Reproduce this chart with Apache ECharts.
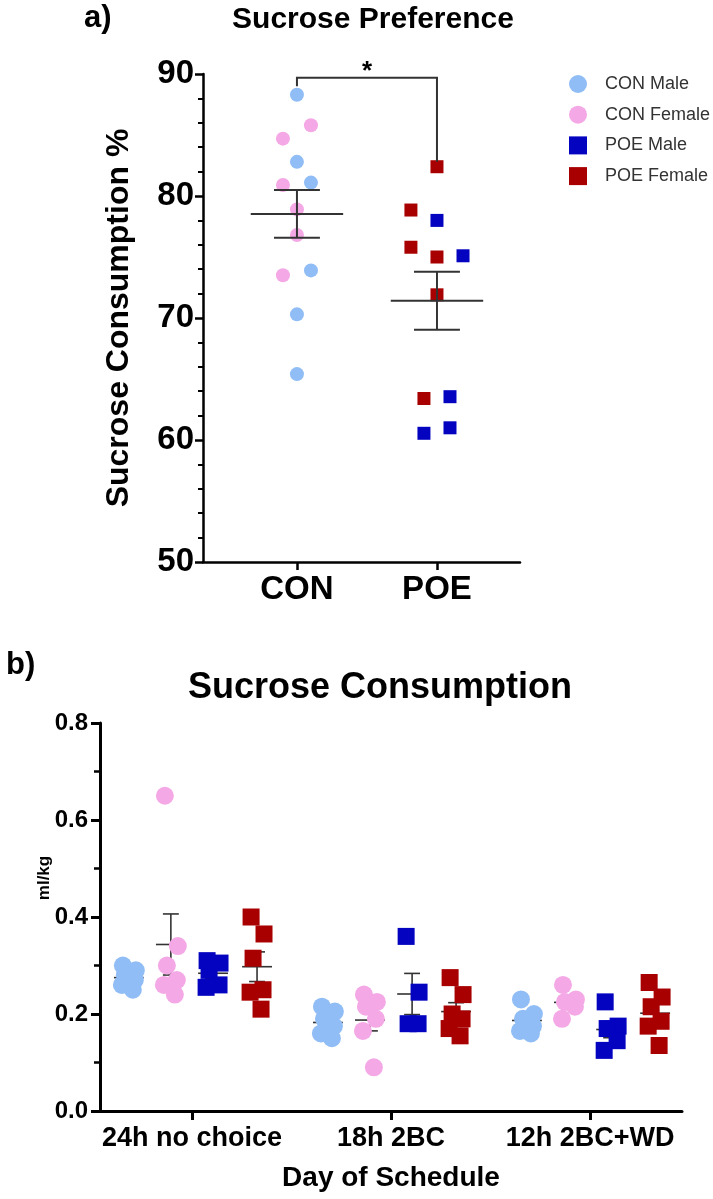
<!DOCTYPE html>
<html><head><meta charset="utf-8">
<script src="https://cdn.jsdelivr.net/npm/echarts@6/dist/echarts.min.js"></script>
<style>html,body{margin:0;padding:0;background:#fff}#c{width:713px;height:1199px}</style>
</head><body><div id="c"></div>
<script>
// ---------- DATA ----------
const groupsA = ['CON', 'POE'];
const conMaleA   = [88.3, 82.8, 81.1, 73.9, 70.3, 65.4];
const conFemaleA = [85.8, 84.7, 80.9, 78.9, 76.8, 73.5];
const poeMaleA   = [78.0, 75.1, 63.55, 60.55, 61.0];
const poeFemaleA = [82.4, 78.85, 75.8, 75.0, 71.9, 63.4];
const yTicksA = [50, 60, 70, 80, 90];

const days = ['24h no choice', '18h 2BC', '12h 2BC+WD'];
const conMaleB   = [[0.30, 0.29, 0.28, 0.27, 0.26, 0.25], [0.215, 0.205, 0.19, 0.175, 0.16, 0.15], [0.23, 0.20, 0.19, 0.175, 0.165, 0.16]];
const conFemaleB = [[0.65, 0.34, 0.30, 0.27, 0.26, 0.24], [0.24, 0.225, 0.215, 0.19, 0.165, 0.09], [0.26, 0.23, 0.225, 0.215, 0.19]];
const poeMaleB   = [[0.31, 0.305, 0.29, 0.26, 0.255], [0.36, 0.245, 0.18, 0.18], [0.225, 0.175, 0.17, 0.145, 0.125]];
const poeFemaleB = [[0.40, 0.365, 0.315, 0.25, 0.245, 0.21], [0.275, 0.24, 0.20, 0.19, 0.17, 0.155], [0.265, 0.235, 0.215, 0.185, 0.175, 0.135]];
const yTicksB = [0, 0.2, 0.4, 0.6, 0.8];

// ---------- LAYOUT (jitter / offsets, not data) ----------
const jitConMaleA   = [0, 0, 0.1, 0.1, 0, 0];
const jitConFemaleA = [0.1, -0.1, -0.1, 0, 0, -0.1];
const jitPoeMaleA   = [0, 0.186, 0.093, -0.093, 0.093];
const jitPoeFemaleA = [0, -0.186, -0.186, 0, 0, -0.093];
const offB = [-0.317, -0.106, 0.106, 0.327];
const jitB = [-0.03, 0.035, -0.02, 0.03, -0.035, 0.02];

const C = {cm: '#90bdf5', cf: '#f4a8e6', pm: '#0303c0', pf: '#a80000'};
const FONT = 'Liberation Sans, Arial, sans-serif';
const SQUARE = 'path://M0 0H10V10H0Z';

function mean(a){ return a.reduce((s,v)=>s+v,0)/a.length; }
function sem(a){ const m = mean(a); const v = a.reduce((s,x)=>s+(x-m)*(x-m),0)/(a.length-1); return Math.sqrt(v/a.length); }

function errRender(hm, hc, lw){
  return function(params, api){
    const x = api.value(0), m = api.value(1), lo = api.value(2), hi = api.value(3);
    const a1 = api.coord([x-hm, m]), a2 = api.coord([x+hm, m]);
    const v1 = api.coord([x, lo]), v2 = api.coord([x, hi]);
    const h1 = api.coord([x-hc, hi]), h2 = api.coord([x+hc, hi]);
    const l1 = api.coord([x-hc, lo]), l2 = api.coord([x+hc, lo]);
    const st = {stroke: '#333', lineWidth: lw};
    return {type: 'group', children: [
      {type:'line', shape:{x1:a1[0],y1:a1[1],x2:a2[0],y2:a2[1]}, style: st},
      {type:'line', shape:{x1:v1[0],y1:v1[1],x2:v2[0],y2:v2[1]}, style: st},
      {type:'line', shape:{x1:h1[0],y1:h1[1],x2:h2[0],y2:h2[1]}, style: st},
      {type:'line', shape:{x1:l1[0],y1:l1[1],x2:l2[0],y2:l2[1]}, style: st}
    ]};
  };
}

// panel A
const conAll = conMaleA.concat(conFemaleA), poeAll = poeMaleA.concat(poeFemaleA);
const errA = [[0, mean(conAll), mean(conAll)-sem(conAll), mean(conAll)+sem(conAll)],
              [1, mean(poeAll), mean(poeAll)-sem(poeAll), mean(poeAll)+sem(poeAll)]];
const ptsA = (vals, g, jit) => vals.map((v,i)=>[g + jit[i], v]);

// panel B
const sexSets = [conMaleB, conFemaleB, poeMaleB, poeFemaleB];
const ptsB = (set, s) => { const out=[]; set.forEach((vals,d)=>vals.forEach((v,i)=>out.push([d+offB[s]+jitB[i%jitB.length], v]))); return out; };
const errB = [];
sexSets.forEach((set,s)=>set.forEach((vals,d)=>{ const m=mean(vals), e=sem(vals); errB.push([d+offB[s], m, m-e, m+e]); }));

const axisLineA = {show:true, onZero:false, lineStyle:{color:'#000', width:2.5}};
const axisLineB = {show:true, onZero:false, lineStyle:{color:'#000', width:3}};

const option = {
  animation: false,
  backgroundColor: '#fff',
  textStyle: {fontFamily: FONT},
  title: [
    {text:'a)', left: 84, top: 3, padding:0, textStyle:{fontSize:31, fontWeight:'bold', color:'#000', fontFamily:FONT}},
    {text:'Sucrose Preference', left: 373, top: 5, padding:0, textAlign:'center', textStyle:{fontSize:30, fontWeight:'bold', color:'#000', fontFamily:FONT}},
    {text:'b)', left: 6, top: 650, padding:0, textStyle:{fontSize:31, fontWeight:'bold', color:'#000', fontFamily:FONT}},
    {text:'Sucrose Consumption', left: 380, top: 670, padding:0, textAlign:'center', textStyle:{fontSize:36, fontWeight:'bold', color:'#000', fontFamily:FONT}}
  ],
  legend: {
    orient:'vertical', left: 564, top: 70, itemWidth: 18, itemHeight: 18, itemGap: 12.7,
    selectedMode: false,
    textStyle: {fontSize: 18, color: '#333', fontFamily: FONT, padding: [0, 0, 0, 13]},
    data: [{name:'CON Male', icon:'circle'}, {name:'CON Female', icon:'circle'}, {name:'POE Male', icon:SQUARE}, {name:'POE Female', icon:SQUARE}]
  },
  graphic: [
    {type:'text', x: 44, y: 878, rotation: Math.PI/2, style:{text:'ml/kg', fill:'#000', font:'bold 17px ' + FONT, textAlign:'center', textVerticalAlign:'middle'}}
  ],
  grid: [
    {left: 203, top: 74, right: 193, bottom: 637},
    {left: 100, top: 723, right: 31, bottom: 88}
  ],
  xAxis: [
    {gridIndex:0, type:'value', min:-0.671, max:1.593, axisLine: axisLineA, splitLine:{show:false},
     axisTick:{show:true, customValues:[0,1], length:8, lineStyle:{color:'#000', width:2.5}},
     axisLabel:{customValues:[0,1], formatter:v=>groupsA[Math.round(v)], fontSize:33, fontWeight:'bold', color:'#000', margin:11, fontFamily:FONT}},
    {gridIndex:1, type:'value', min:-0.462, max:2.462, axisLine: axisLineB, splitLine:{show:false},
     axisTick:{show:true, customValues:[0,1,2], length:9, lineStyle:{color:'#000', width:3}},
     axisLabel:{customValues:[0,1,2], formatter:v=>days[Math.round(v)], fontSize:27, fontWeight:'bold', color:'#000', margin:14, fontFamily:FONT},
     name:'Day of Schedule', nameLocation:'middle', nameGap:53, nameTextStyle:{fontSize:28, fontWeight:'bold', color:'#000', fontFamily:FONT}}
  ],
  yAxis: [
    {gridIndex:0, type:'value', min:yTicksA[0], max:yTicksA[yTicksA.length-1], interval:10, axisLine: axisLineA, splitLine:{show:false},
     axisTick:{length:8, lineStyle:{color:'#000', width:2.5}}, minorTick:{show:true, splitNumber:5, length:5, lineStyle:{color:'#000', width:2}},
     axisLabel:{fontSize:33, fontWeight:'bold', color:'#000', margin:9, fontFamily:FONT},
     name:'Sucrose Consumption %', nameLocation:'middle', nameGap:68, nameRotate:90,
     nameTextStyle:{fontSize:32, fontWeight:'bold', color:'#000', fontFamily:FONT}},
    {gridIndex:1, type:'value', min:yTicksB[0], max:yTicksB[yTicksB.length-1], interval:0.2, axisLine: axisLineB, splitLine:{show:false},
     axisTick:{length:9, lineStyle:{color:'#000', width:3}}, minorTick:{show:true, splitNumber:2, length:6, lineStyle:{color:'#000', width:2.5}},
     axisLabel:{fontSize:24, fontWeight:'bold', color:'#000', margin:12, formatter:v=>v.toFixed(1), fontFamily:FONT}}
  ],
  series: [
    {name:'CON Male', type:'scatter', xAxisIndex:0, yAxisIndex:0, symbol:'circle', symbolSize:14, itemStyle:{color:C.cm, opacity:1}, data: ptsA(conMaleA, 0, jitConMaleA), z:2},
    {name:'CON Female', type:'scatter', xAxisIndex:0, yAxisIndex:0, symbol:'circle', symbolSize:14, itemStyle:{color:C.cf, opacity:1}, data: ptsA(conFemaleA, 0, jitConFemaleA), z:2},
    {name:'POE Male', type:'scatter', xAxisIndex:0, yAxisIndex:0, symbol:'rect', symbolSize:13, itemStyle:{color:C.pm, opacity:1}, data: ptsA(poeMaleA, 1, jitPoeMaleA), z:2},
    {name:'POE Female', type:'scatter', xAxisIndex:0, yAxisIndex:0, symbol:'rect', symbolSize:13, itemStyle:{color:C.pf, opacity:1}, data: ptsA(poeFemaleA, 1, jitPoeFemaleA), z:2},
    {type:'custom', xAxisIndex:0, yAxisIndex:0, renderItem: errRender(0.33, 0.164, 2), data: errA, z:3, silent:true},
    {type:'custom', xAxisIndex:0, yAxisIndex:0, z:3, silent:true,
     data: [[0, 1, 89.7, 89.0, 82.8]],
     renderItem: function(params, api){
       const p0 = api.coord([api.value(0), api.value(3)]), p1 = api.coord([api.value(0), api.value(2)]);
       const p2 = api.coord([api.value(1), api.value(2)]), p3 = api.coord([api.value(1), api.value(4)]);
       const mid = api.coord([(api.value(0)+api.value(1))/2, api.value(2)]);
       return {type:'group', children:[
         {type:'polyline', shape:{points:[p0,p1,p2,p3]}, style:{stroke:'#333', lineWidth:2, fill:null}},
         {type:'text', x: mid[0], y: mid[1]-6, style:{text:'*', font:'bold 26px ' + FONT, fill:'#000', textAlign:'center', textVerticalAlign:'middle'}}
       ]};
     }},
    {type:'custom', xAxisIndex:1, yAxisIndex:1, renderItem: errRender(0.075, 0.04, 1.6), data: errB, z:1, silent:true},
    {name:'CON Male', type:'scatter', xAxisIndex:1, yAxisIndex:1, symbol:'circle', symbolSize:18, itemStyle:{color:C.cm, opacity:1}, data: ptsB(conMaleB, 0), z:2},
    {name:'CON Female', type:'scatter', xAxisIndex:1, yAxisIndex:1, symbol:'circle', symbolSize:18, itemStyle:{color:C.cf, opacity:1}, data: ptsB(conFemaleB, 1), z:2},
    {name:'POE Male', type:'scatter', xAxisIndex:1, yAxisIndex:1, symbol:'rect', symbolSize:17, itemStyle:{color:C.pm, opacity:1}, data: ptsB(poeMaleB, 2), z:2},
    {name:'POE Female', type:'scatter', xAxisIndex:1, yAxisIndex:1, symbol:'rect', symbolSize:17, itemStyle:{color:C.pf, opacity:1}, data: ptsB(poeFemaleB, 3), z:2}
  ]
};
const chart = echarts.init(document.getElementById('c'), null, {renderer:'canvas'});
chart.setOption(option);
</script>
</body></html>
